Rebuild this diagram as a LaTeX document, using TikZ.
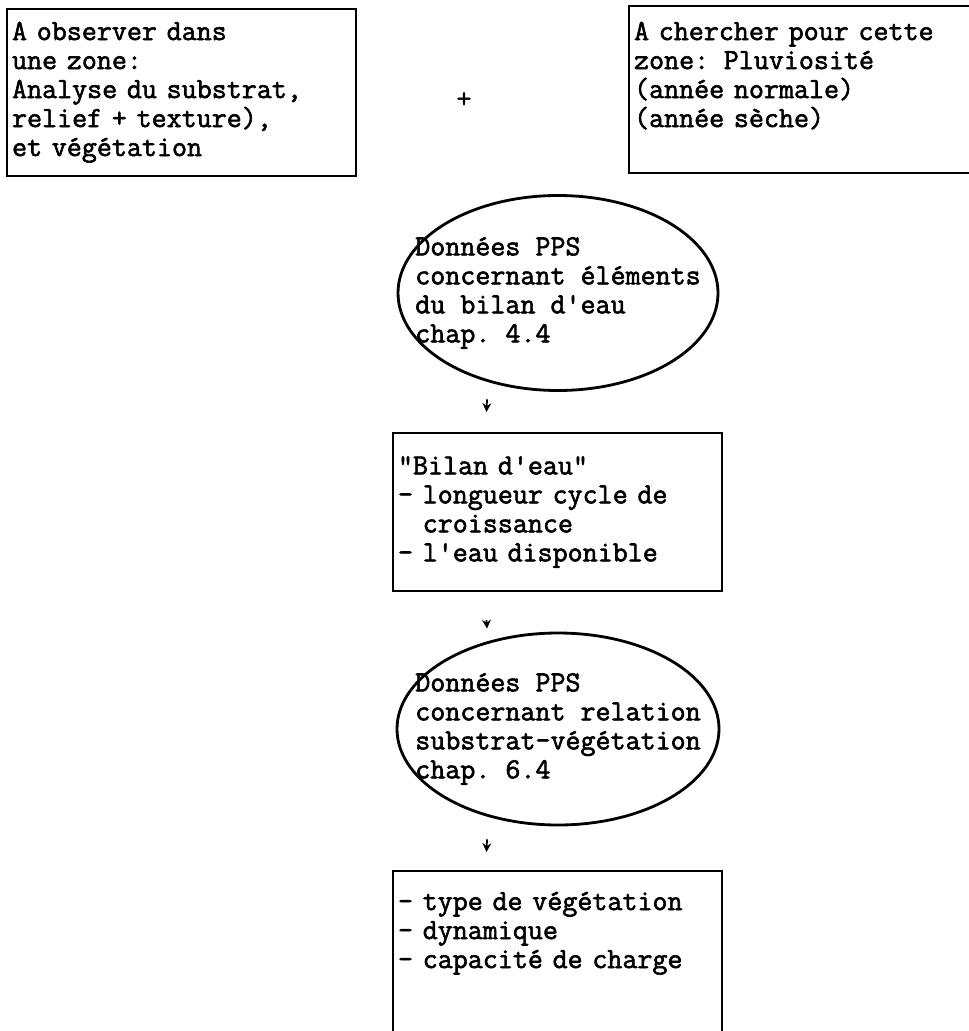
\documentclass[tikz,border=0pt]{standalone}
\usepackage{fontspec}
\usepackage{tikz}
\usetikzlibrary{shapes.geometric}
\usetikzlibrary{arrows.meta}
\setmonofont{Latin Modern Mono}[FakeBold=2]

\begin{document}
\begin{tikzpicture}[>={Stealth[length=5pt,width=5pt]},
    every node/.style={font=\ttfamily\fontsize{16.6}{16.5}\selectfont},
    cadre/.style={draw, line width=1.2pt, rectangle, align=left, inner xsep=0.1cm, inner ysep=0.1cm},
    bulle/.style={draw, line width=1.6pt, ellipse, align=left, inner xsep=-1cm, inner ysep=0pt},
    fleche/.style={->, line width=1pt}]

        \useasboundingbox (0,0) rectangle (19.36,-20.62);

        %%% TOP ROW

        % Observations
        \node[cadre, anchor=north west, text width=6.78cm, text height=0.52cm, text depth=2.62cm] (observer) at (0.12,-0.16)
            {A observer dans\\une zone:\\Analyse du substrat,\\relief + texture),\\et végétation};

        \node (plus) at (9.28,-2.0) {+};

        % Pluviosite (box runs off the page)
        \node[cadre, anchor=north west, text width=7.5cm, text height=0.58cm, text depth=2.56cm] (chercher) at (12.56,-0.10)
            {A chercher pour cette\\zone: Pluviosité\\(année normale)\\(année sèche)};

        %%% CENTRE COLUMN

        \node[bulle, minimum width=6.4cm, minimum height=3.9cm] (pps1) at (11.16,-5.86)
            {Données PPS\\concernant éléments\\du bilan d'eau\\chap. 4.4};

        \node[cadre, anchor=north, text width=6.38cm, minimum height=3.16cm] (bilan) at (11.15,-8.64)
            {"Bilan d'eau"\\- longueur cycle de\\\phantom{- }croissance\\- l'eau disponible};

        \node[bulle, minimum width=6.44cm, minimum height=3.84cm] (pps2) at (11.16,-14.58)
            {Données PPS\\concernant relation\\substrat-végétation\\chap. 6.4};

        % last box is open at the bottom
        \node[cadre, anchor=north, text width=6.38cm, text height=0.68cm, text depth=3.5cm] (vegetation) at (11.15,-17.4)
            {- type de végétation\\- dynamique\\- capacité de charge};

        % Arrows
        \draw[fleche] ([xshift=-1.42cm,yshift=-0.15cm]pps1.south) -- ([xshift=-1.42cm,yshift=0.4cm]bilan.north);
        \draw[fleche] ([xshift=-1.42cm,yshift=-0.56cm]bilan.south) -- ([xshift=-1.42cm,yshift=0.06cm]pps2.north);
        \draw[fleche] ([xshift=-1.42cm,yshift=-0.26cm]pps2.south) -- ([xshift=-1.42cm,yshift=0.36cm]vegetation.north);

\end{tikzpicture}
\end{document}
